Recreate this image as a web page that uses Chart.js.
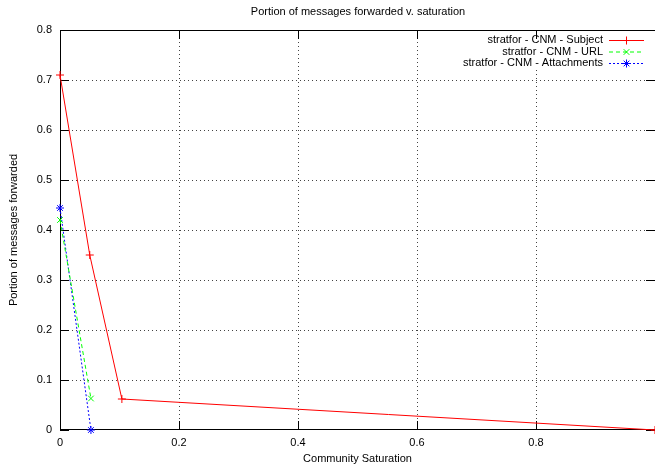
<!DOCTYPE html>
<html>
<head>
<meta charset="utf-8">
<script src="https://cdn.jsdelivr.net/npm/chart.js@4"></script>
<style>
  html, body { margin: 0; padding: 0; background: #fff; }
  #wrap { width: 655px; height: 466px; }
</style>
</head>
<body>
<div id="wrap"><canvas id="chart" width="655" height="466"></canvas></div>
<script>
// values
const seriesNames = ['stratfor - CNM - Subject', 'stratfor - CNM - URL', 'stratfor - CNM - Attachments'];
const subjectX = [0, 0.05, 0.104, 1.0];
const subjectY = [0.71, 0.35, 0.062, 0];
const urlX = [0, 0.052];
const urlY = [0.42, 0.063];
const attachX = [0, 0.052];
const attachY = [0.444, 0];
const xTicks = [0, 0.2, 0.4, 0.6, 0.8, 1];
const yTicks = [0, 0.1, 0.2, 0.3, 0.4, 0.5, 0.6, 0.7, 0.8];

const FONT = 'Liberation Sans, Arial, Helvetica, sans-serif';

function pts(xs, ys) {
    return xs.map((x, i) => ({ x: x, y: ys[i] }));
}

// gnuplot style frame: inward ticks on all four sides plus title + legend
const gnuplotFrame = {
    id: 'gnuplotFrame',
    beforeDatasetsDraw(chart) {
        const ctx = chart.ctx;
        const a = chart.chartArea;
        const xs = chart.scales.x, ys = chart.scales.y;
        ctx.save();
        // key area blanks the grid behind it
        ctx.fillStyle = '#fff';
        ctx.fillRect(456, 31, 190, 39);

        ctx.strokeStyle = '#000';
        ctx.lineWidth = 1;
        ctx.setLineDash([]);
        ctx.beginPath();
        ctx.rect(a.left + 0.5, a.top + 0.5, a.right - a.left, a.bottom - a.top - 1);
        xTicks.forEach(v => {
            const px = Math.round(xs.getPixelForValue(v)) + 0.5;
            ctx.moveTo(px, a.bottom); ctx.lineTo(px, a.bottom - 9);
            ctx.moveTo(px, a.top); ctx.lineTo(px, a.top + 9);
        });
        yTicks.forEach(v => {
            const py = Math.round(ys.getPixelForValue(v)) + 0.5;
            ctx.moveTo(a.left, py); ctx.lineTo(a.left + 9, py);
            ctx.moveTo(a.right, py); ctx.lineTo(a.right - 9, py);
        });
        ctx.stroke();
        ctx.restore();
    },
    afterDraw(chart) {
        const ctx = chart.ctx;
        ctx.save();
        // title
        ctx.fillStyle = '#000';
        ctx.font = '11px ' + FONT;
        ctx.textAlign = 'center';
        ctx.textBaseline = 'middle';
        ctx.fillText('Portion of messages forwarded v. saturation', 358, 12);

        // legend, text right aligned before the sample
        chart.data.datasets.forEach((ds, i) => {
            const y = 40 + i * 11.5;
            ctx.textAlign = 'right';
            ctx.fillStyle = '#000';
            ctx.fillText(seriesNames[i], 603, y);
            ctx.strokeStyle = ds.borderColor;
            ctx.lineWidth = 1;
            ctx.setLineDash(ds.borderDash || []);
            ctx.beginPath();
            ctx.moveTo(609, y + 0.5); ctx.lineTo(644, y + 0.5);
            ctx.stroke();
            ctx.setLineDash([]);
            Chart.helpers.drawPoint(ctx, {
                pointStyle: ds.pointStyle, radius: 4, borderWidth: 1
            }, 626.5, y + 0.5);
        });
        ctx.restore();
    }
};

const gridColor = (ctx, edges) =>
    (ctx.tick && edges.includes(ctx.tick.value)) ? 'rgba(0,0,0,0)' : '#444';

new Chart(document.getElementById('chart').getContext('2d'), {
    type: 'scatter',
    data: {
        datasets: [{
            label: seriesNames[0],
            data: pts(subjectX, subjectY),
            showLine: true,
            clip: false,
            borderColor: '#ff0000',
            backgroundColor: '#ff0000',
            borderWidth: 1,
            pointStyle: 'cross',
            pointRadius: 4,
            pointBorderWidth: 1
        }, {
            label: seriesNames[1],
            data: pts(urlX, urlY),
            showLine: true,
            clip: false,
            borderColor: '#00ff00',
            backgroundColor: '#00ff00',
            borderWidth: 1,
            borderDash: [4, 3],
            pointStyle: 'crossRot',
            pointRadius: 4,
            pointBorderWidth: 1
        }, {
            label: seriesNames[2],
            data: pts(attachX, attachY),
            showLine: true,
            clip: false,
            borderColor: '#0000ff',
            backgroundColor: '#0000ff',
            borderWidth: 1,
            borderDash: [2, 2],
            pointStyle: 'star',
            pointRadius: 4,
            pointBorderWidth: 1
        }]
    },
    options: {
        responsive: false,
        animation: false,
        layout: { autoPadding: false, padding: { top: 30, right: 0, left: 0, bottom: 0 } },
        plugins: {
            legend: { display: false },
            title: { display: false },
            tooltip: { enabled: false }
        },
        scales: {
            x: {
                type: 'linear',
                min: 0,
                max: 1,
                afterBuildTicks: s => { s.ticks = xTicks.map(v => ({ value: v })); },
                afterFit: s => { s.height = 36; s.paddingRight = 0; },
                border: { display: false, dash: [1, 3] },
                grid: {
                    color: ctx => gridColor(ctx, [0, 1]),
                    lineWidth: 1,
                    drawTicks: false
                },
                ticks: {
                    color: '#000',
                    font: { family: FONT, size: 11 },
                    padding: 6,
                    maxRotation: 0,
                    callback: v => v === 1 ? '' : String(v)
                },
                title: {
                    display: true,
                    text: 'Community Saturation',
                    color: '#000',
                    font: { family: FONT, size: 11 },
                    padding: { top: 4, bottom: 0 }
                }
            },
            y: {
                type: 'linear',
                min: 0,
                max: 0.8,
                afterBuildTicks: s => { s.ticks = yTicks.map(v => ({ value: v })); },
                afterFit: s => { s.width = 60; },
                border: { display: false, dash: [1, 3] },
                grid: {
                    color: ctx => gridColor(ctx, [0, 0.8]),
                    lineWidth: 1,
                    drawTicks: false
                },
                ticks: {
                    color: '#000',
                    font: { family: FONT, size: 11 },
                    padding: 8,
                    callback: v => String(v)
                },
                title: {
                    display: true,
                    text: 'Portion of messages forwarded',
                    color: '#000',
                    font: { family: FONT, size: 11 },
                    padding: { top: 7, bottom: 0 }
                }
            }
        }
    },
    plugins: [gnuplotFrame]
});
</script>
</body>
</html>
